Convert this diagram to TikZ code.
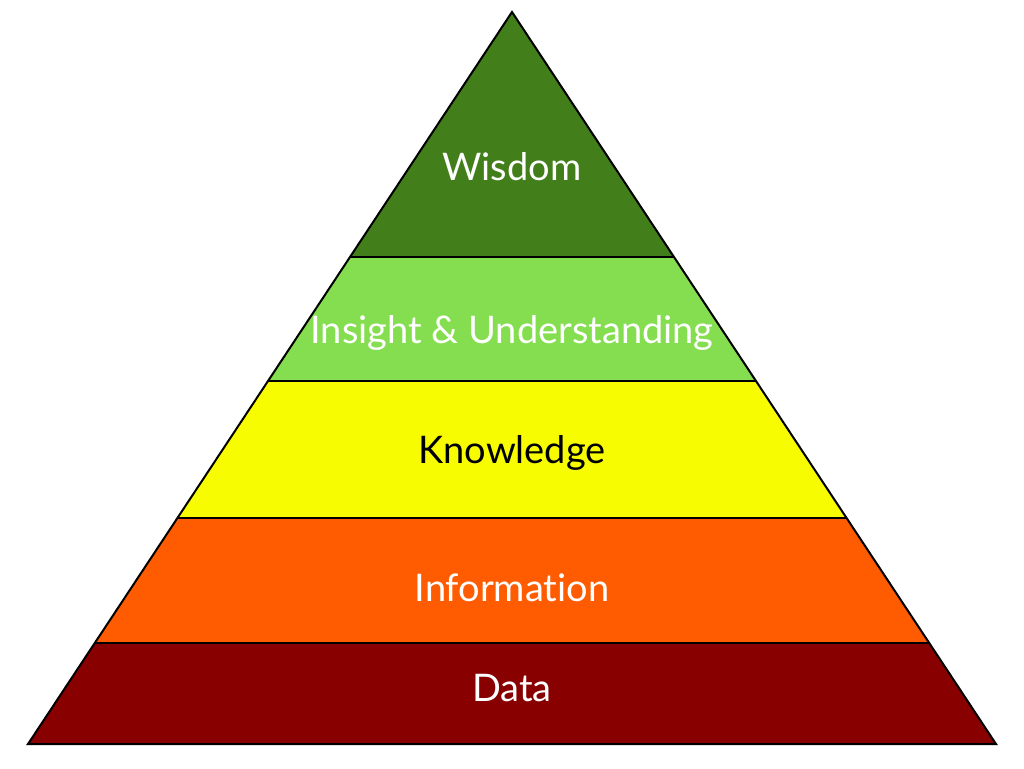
\documentclass[tikz,border=0pt]{standalone}
\usepackage{fontspec}
\setmainfont{Lato}[Ligatures=NoCommon]
\definecolor{cwis}{HTML}{427E1A}
\definecolor{cins}{HTML}{84DE50}
\definecolor{ckno}{HTML}{F8FC00}
\definecolor{cinf}{HTML}{FF5B00}
\definecolor{cdat}{HTML}{880000}
\tikzset{band/.style={draw=black,line width=2pt,line join=miter},
lab/.style={font=\fontsize{38}{41}\selectfont,anchor=base,inner sep=0pt}}
\begin{document}
\begin{tikzpicture}[x=1pt,y=-1pt]
\useasboundingbox[fill=white] (0,0) rectangle (1024,768);
\coordinate (apex) at (512,12);
\coordinate (l1) at (350,257); \coordinate (r1) at (674,257);
\coordinate (l2) at (268,381); \coordinate (r2) at (756,381);
\coordinate (l3) at (177.4,518); \coordinate (r3) at (846.6,518);
\coordinate (l4) at (94.8,643); \coordinate (r4) at (929.2,643);
\coordinate (l5) at (28,744); \coordinate (r5) at (996,744);
\fill[cwis] (apex) -- (r1) -- (l1) -- cycle;
\fill[cins] (l1) -- (r1) -- (r2) -- (l2) -- cycle;
\fill[ckno] (l2) -- (r2) -- (r3) -- (l3) -- cycle;
\fill[cinf] (l3) -- (r3) -- (r4) -- (l4) -- cycle;
\fill[cdat] (l4) -- (r4) -- (r5) -- (l5) -- cycle;
\draw[band] (l1) -- (r1) (l2) -- (r2) (l3) -- (r3) (l4) -- (r4);
\draw[band] (apex) -- (r5) -- (l5) -- cycle;
\node[lab,text=white] (wis) at (512,180) {Wisdom};
\node[lab,text=white] (ins) at (512,343) {Insight \& Understanding};
\node[lab,text=black] (kno) at (512,463) {Knowledge};
\node[lab,text=white] (inf) at (512,601) {Information};
\node[lab,text=white] (dat) at (512,701) {Data};
\end{tikzpicture}
\end{document}
